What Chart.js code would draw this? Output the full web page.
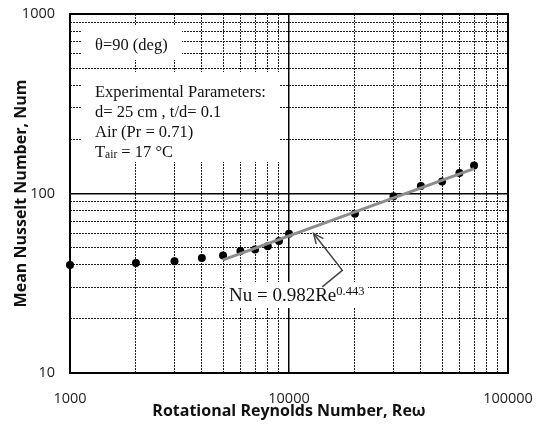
<!DOCTYPE html>
<html><head><meta charset="utf-8">
<script src="https://cdn.jsdelivr.net/npm/chart.js@4/dist/chart.umd.min.js"></script>
<style>html,body{margin:0;padding:0;background:#fff}#wrap{width:539px;height:425px}</style>
</head><body><div id="wrap"><canvas id="c" width="539" height="425"></canvas></div>
<script>
// ---- data ----
const reynolds = [1000, 2000, 3000, 4000, 5000, 6000, 7000, 8000, 9000, 10000, 20000, 30000, 40000, 50000, 60000, 70000];
const nusselt  = [40, 41, 42, 43.7, 45.2, 47.8, 48.8, 50.8, 54.3, 59.7, 77, 96.5, 110, 116.5, 130, 143];
const fitRe = [5000, 70000];
const fitNu = [42.7, 137.5];
const xTicks = [1000,2000,3000,4000,5000,6000,7000,8000,9000,10000,20000,30000,40000,50000,60000,70000,80000,90000,100000];
const yTicks = [10,20,30,40,50,60,70,80,90,100,200,300,400,500,600,700,800,900,1000];
const xMajor = [1000, 10000, 100000];
const yMajor = [10, 100, 1000];
const xLabels = ['1000', '10000', '100000'];
const yLabels = ['10', '100', '1000'];
// arrow anchor points (data coordinates): tip, elbow, tail
const arrowRe = [12950, 17520, 14190];
const arrowNu = [59.9, 37.3, 30.2];

const serif = '"Liberation Serif", "Times New Roman", serif';
const sans = '"Open Sans", "Liberation Sans", sans-serif';

function isMajorVal(v, majors){ return majors.some(m => Math.abs(m - v) / m < 1e-6); }

function gridOpts(majors){
  return {
    drawTicks: false,
    color: c => (c.tick && isMajorVal(c.tick.value, majors)) ? '#000' : '#222',
    lineWidth: c => (c.tick && isMajorVal(c.tick.value, majors)) ? 1.5 : 1
  };
}
function borderOpts(majors){
  return {
    display: false,
    dash: c => (c.tick && !isMajorVal(c.tick.value, majors)) ? [2, 1] : []
  };
}

const annot = {
  id: 'annot',
  beforeDatasetsDraw(chart){
    const ctx = chart.ctx;
    ctx.save();
    ctx.fillStyle = '#fff';
    ctx.fillRect(82, 25, 100, 35);
    ctx.fillRect(82, 72, 198, 90);
    ctx.fillRect(226, 282, 142, 26);
    ctx.fillStyle = '#111';
    ctx.textBaseline = 'alphabetic';
    ctx.textAlign = 'left';
    ctx.font = '16.5px ' + serif;
    ctx.fillText('\u03b8=90 (deg)', 95, 50);
    ctx.fillText('Experimental Parameters:', 95, 97);
    ctx.fillText('d= 25 cm , t/d= 0.1', 95, 117);
    ctx.fillText('Air (Pr = 0.71)', 95, 137);
    // Tair = 17 °C
    let x = 95;
    ctx.fillText('T', x, 157); x += ctx.measureText('T').width;
    ctx.font = '11.5px ' + serif;
    ctx.fillText('air', x, 158); x += ctx.measureText('air').width;
    ctx.font = '16.5px ' + serif;
    ctx.fillText(' = 17 \u00b0C', x, 157);
    // Nu equation
    ctx.font = '19px ' + serif;
    ctx.fillText('Nu = 0.982Re', 229, 301);
    const w = ctx.measureText('Nu = 0.982Re').width;
    ctx.font = '12.5px ' + serif;
    ctx.fillText('0.443', 229 + w, 295);
    ctx.restore();
  },
  afterDraw(chart){
    const ctx = chart.ctx, a = chart.chartArea;
    const xs = chart.scales.x, ys = chart.scales.y;
    ctx.save();
    // arrow
    const pts = arrowRe.map((r, i) => [xs.getPixelForValue(r), ys.getPixelForValue(arrowNu[i])]);
    ctx.strokeStyle = '#444';
    ctx.lineWidth = 1.5;
    ctx.beginPath();
    ctx.moveTo(pts[2][0], pts[2][1]);
    ctx.lineTo(pts[1][0], pts[1][1]);
    ctx.lineTo(pts[0][0], pts[0][1]);
    ctx.stroke();
    const ang = Math.atan2(pts[0][1] - pts[1][1], pts[0][0] - pts[1][0]);
    const L = 11, sp = 0.42;
    ctx.beginPath();
    ctx.moveTo(pts[0][0] - L * Math.cos(ang - sp), pts[0][1] - L * Math.sin(ang - sp));
    ctx.lineTo(pts[0][0], pts[0][1]);
    ctx.lineTo(pts[0][0] - L * Math.cos(ang + sp), pts[0][1] - L * Math.sin(ang + sp));
    ctx.stroke();
    // frame
    ctx.strokeStyle = '#000';
    ctx.lineWidth = 2;
    ctx.strokeRect(a.left, a.top, a.right - a.left, a.bottom - a.top);
    ctx.restore();
  }
};

new Chart(document.getElementById('c'), {
  data: {
    datasets: [
      {
        type: 'line',
        data: fitRe.map((r, i) => ({x: r, y: fitNu[i]})),
        borderColor: '#8c8c8c',
        borderWidth: 3,
        pointRadius: 0,
        fill: false,
        order: 0
      },
      {
        type: 'scatter',
        data: reynolds.map((r, i) => ({x: r, y: nusselt[i]})),
        backgroundColor: '#000',
        borderColor: '#000',
        borderWidth: 0,
        pointRadius: 4,
        clip: false,
        order: 1
      }
    ]
  },
  options: {
    responsive: false,
    animation: false,
    devicePixelRatio: 1,
    layout: {padding: {left: 0, top: 14, right: 31, bottom: 0}},
    plugins: {legend: {display: false}, tooltip: {enabled: false}},
    scales: {
      x: {
        type: 'logarithmic',
        position: 'bottom',
        min: 1000, max: 100000,
        afterBuildTicks: s => { s.ticks = xTicks.map(v => ({value: v, major: isMajorVal(v, xMajor)})); },
        afterFit: s => { s.height = 52; s.paddingLeft = 0; s.paddingRight = 0; },
        grid: gridOpts(xMajor),
        border: borderOpts(xMajor),
        ticks: {
          autoSkip: false, maxRotation: 0, minRotation: 0, padding: 17,
          color: '#222', font: {family: sans, size: 14.5},
          callback: v => { const i = xMajor.findIndex(m => Math.abs(m - v) / m < 1e-6); return i >= 0 ? xLabels[i] : ''; }
        },
        title: {
          display: true, text: 'Rotational Reynolds Number, Re\u03c9',
          color: '#111', font: {family: sans, size: 16, weight: 'bold'},
          padding: {top: 0, bottom: 4}
        }
      },
      y: {
        type: 'logarithmic',
        position: 'left',
        min: 10, max: 1000,
        afterBuildTicks: s => { s.ticks = yTicks.map(v => ({value: v, major: isMajorVal(v, yMajor)})); },
        afterFit: s => { s.width = 70; s.paddingTop = 0; s.paddingBottom = 0; },
        grid: gridOpts(yMajor),
        border: borderOpts(yMajor),
        ticks: {
          autoSkip: false, padding: 15,
          color: '#222', font: {family: sans, size: 14.5},
          callback: v => { const i = yMajor.findIndex(m => Math.abs(m - v) / m < 1e-6); return i >= 0 ? yLabels[i] : ''; }
        },
        title: {
          display: true, text: 'Mean Nusselt Number, Num',
          color: '#111', font: {family: sans, size: 16, weight: 'bold'},
          padding: {top: 12, bottom: 0}
        }
      }
    }
  },
  plugins: [annot]
});
</script>
</body></html>
